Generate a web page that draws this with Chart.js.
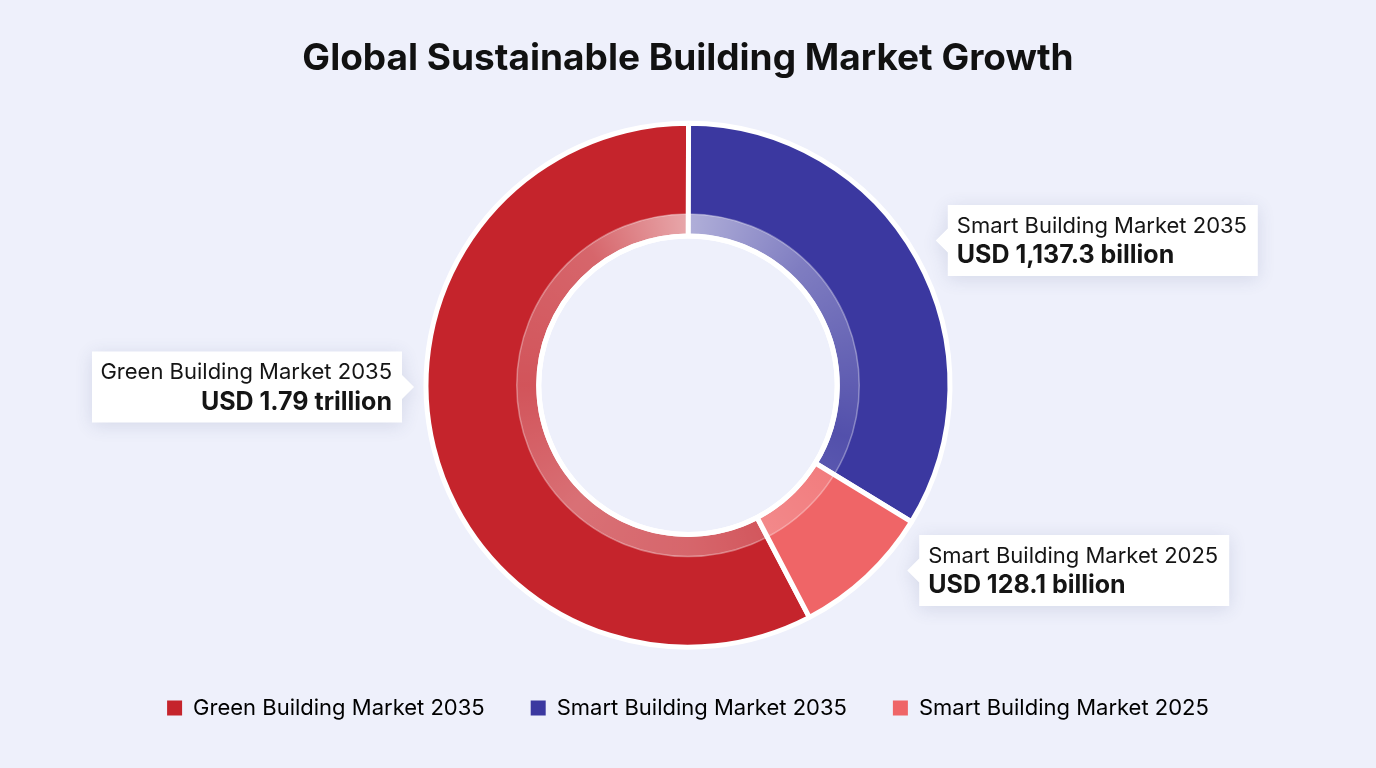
<!DOCTYPE html>
<html>
<head>
<meta charset="utf-8">
<script src="https://cdn.jsdelivr.net/npm/chart.js@4.4.1/dist/chart.umd.min.js"></script>
<style>
    html, body { margin: 0; padding: 0; background: #eef0fb; }
    #wrap { width: 1376px; height: 768px; position: relative; }
</style>
</head>
<body>
<div id="wrap"><canvas id="marketChart" width="1376" height="768"></canvas></div>
<script>

const categories = ['Green Building Market 2035', 'Smart Building Market 2035', 'Smart Building Market 2025'];
const valueLabels = ['USD 1.79 trillion', 'USD 1,137.3 billion', 'USD 128.1 billion'];
const sliceShares = [57.7, 33.7, 8.6];
const sliceColors = ['#c5242c', '#3b38a0', '#ef6567'];

// translucent "glass" ring on the inner edge of the doughnut
const glassRing = {
    id: 'glassRing',
    afterDatasetsDraw(chart) {
        const arc = chart.getDatasetMeta(0).data[0];
        if (!arc) return;
        const ctx = chart.ctx;
        const cx = arc.x, cy = arc.y;
        const r0 = arc.innerRadius + 2, r1 = arc.innerRadius + 22;
        ctx.save();
        const g = ctx.createConicGradient(-Math.PI / 2, cx, cy);
        g.addColorStop(0, 'rgba(255,255,255,0.6)');
        g.addColorStop(0.12, 'rgba(255,255,255,0.35)');
        g.addColorStop(0.3, 'rgba(255,255,255,0.12)');
        g.addColorStop(0.5, 'rgba(255,255,255,0.3)');
        g.addColorStop(0.62, 'rgba(255,255,255,0.35)');
        g.addColorStop(0.75, 'rgba(255,255,255,0.22)');
        g.addColorStop(0.9, 'rgba(255,255,255,0.3)');
        g.addColorStop(1, 'rgba(255,255,255,0.6)');
        ctx.beginPath();
        ctx.arc(cx, cy, r1, 0, Math.PI * 2);
        ctx.arc(cx, cy, r0, 0, Math.PI * 2, true);
        ctx.fillStyle = g;
        ctx.fill();
        ctx.beginPath();
        ctx.arc(cx, cy, r1, 0, Math.PI * 2);
        ctx.strokeStyle = 'rgba(255,255,255,0.35)';
        ctx.lineWidth = 1.5;
        ctx.stroke();
        ctx.beginPath();
        ctx.arc(cx, cy, arc.innerRadius, 0, Math.PI * 2);
        ctx.strokeStyle = '#ffffff';
        ctx.lineWidth = 5;
        ctx.stroke();
        ctx.restore();
    }
};

// white callout boxes with a small pointer
const callouts = {
    id: 'callouts',
    afterDraw(chart, args, opts) {
        const arc = chart.getDatasetMeta(0).data[0];
        if (!arc) return;
        const ctx = chart.ctx;
        const boxW = 310, boxH = 71, gap = 12;
        opts.items.forEach(function (item) {
            const a = (item.angle - 90) * Math.PI / 180;
            const tx = arc.x + Math.cos(a) * item.dist;
            const ty = arc.y + Math.sin(a) * item.dist;
            const right = item.side === 'right';
            const bx = right ? tx + gap : tx - gap - boxW;
            const by = ty - boxH / 2;

            ctx.save();
            ctx.shadowColor = 'rgba(60,70,120,0.14)';
            ctx.shadowBlur = 18;
            ctx.shadowOffsetY = 3;
            ctx.fillStyle = '#ffffff';
            ctx.beginPath();
            if (right) {
                ctx.moveTo(bx, by);
                ctx.lineTo(bx + boxW, by);
                ctx.lineTo(bx + boxW, by + boxH);
                ctx.lineTo(bx, by + boxH);
                ctx.lineTo(bx, ty + 12);
                ctx.lineTo(tx, ty);
                ctx.lineTo(bx, ty - 12);
            } else {
                ctx.moveTo(bx, by);
                ctx.lineTo(bx + boxW, by);
                ctx.lineTo(bx + boxW, ty - 12);
                ctx.lineTo(tx, ty);
                ctx.lineTo(bx + boxW, ty + 12);
                ctx.lineTo(bx + boxW, by + boxH);
                ctx.lineTo(bx, by + boxH);
            }
            ctx.closePath();
            ctx.fill();
            ctx.restore();

            ctx.save();
            ctx.fillStyle = '#151515';
            ctx.textBaseline = 'middle';
            ctx.textAlign = right ? 'left' : 'right';
            const textX = right ? bx + 9 : bx + boxW - 10;
            ctx.font = '400 22px Inter';
            ctx.fillText(categories[item.index], textX, by + 21);
            ctx.font = '700 25px Inter';
            ctx.fillText(valueLabels[item.index], textX, by + 51);
            ctx.restore();
        });
    }
};

function drawChart() {

    const ctx = document.getElementById('marketChart');

    new Chart(ctx, {
        type: 'doughnut',
        data: {
            labels: categories,
            datasets: [{
                data: sliceShares,
                backgroundColor: sliceColors,
                borderColor: '#ffffff',
                borderWidth: 5,
                hoverOffset: 0
            }]
        },
        options: {
            responsive: false,
            animation: false,
            radius: 262,
            cutout: 150,
            rotation: 152.4,
            layout: {
                padding: { top: 0, bottom: 39, left: 0, right: 0 }
            },
            plugins: {
                title: {
                    display: true,
                    text: 'Global Sustainable Building Market Growth',
                    color: '#111111',
                    font: { family: 'Inter', size: 37, weight: '700' },
                    padding: { top: 37, bottom: 38 }
                },
                legend: {
                    position: 'bottom',
                    labels: {
                        color: '#1c1c1c',
                        font: { family: 'Inter', size: 22 },
                        boxWidth: 15,
                        boxHeight: 15,
                        padding: 46,
                        generateLabels(chart) {
                            return categories.map(function (c, i) {
                                return {
                                    text: c,
                                    fillStyle: sliceColors[i],
                                    strokeStyle: sliceColors[i],
                                    lineWidth: 0,
                                    hidden: false,
                                    index: i
                                };
                            });
                        }
                    }
                },
                tooltip: { enabled: false },
                callouts: {
                    items: [
                        { index: 0, angle: 269.6, dist: 274, side: 'left' },
                        { index: 1, angle: 59.7, dist: 287, side: 'right' },
                        { index: 2, angle: 130.2, dist: 287, side: 'right' }
                    ]
                }
            }
        },
        plugins: [glassRing, callouts]
    });

}

drawChart();
</script>
</body>
</html>
